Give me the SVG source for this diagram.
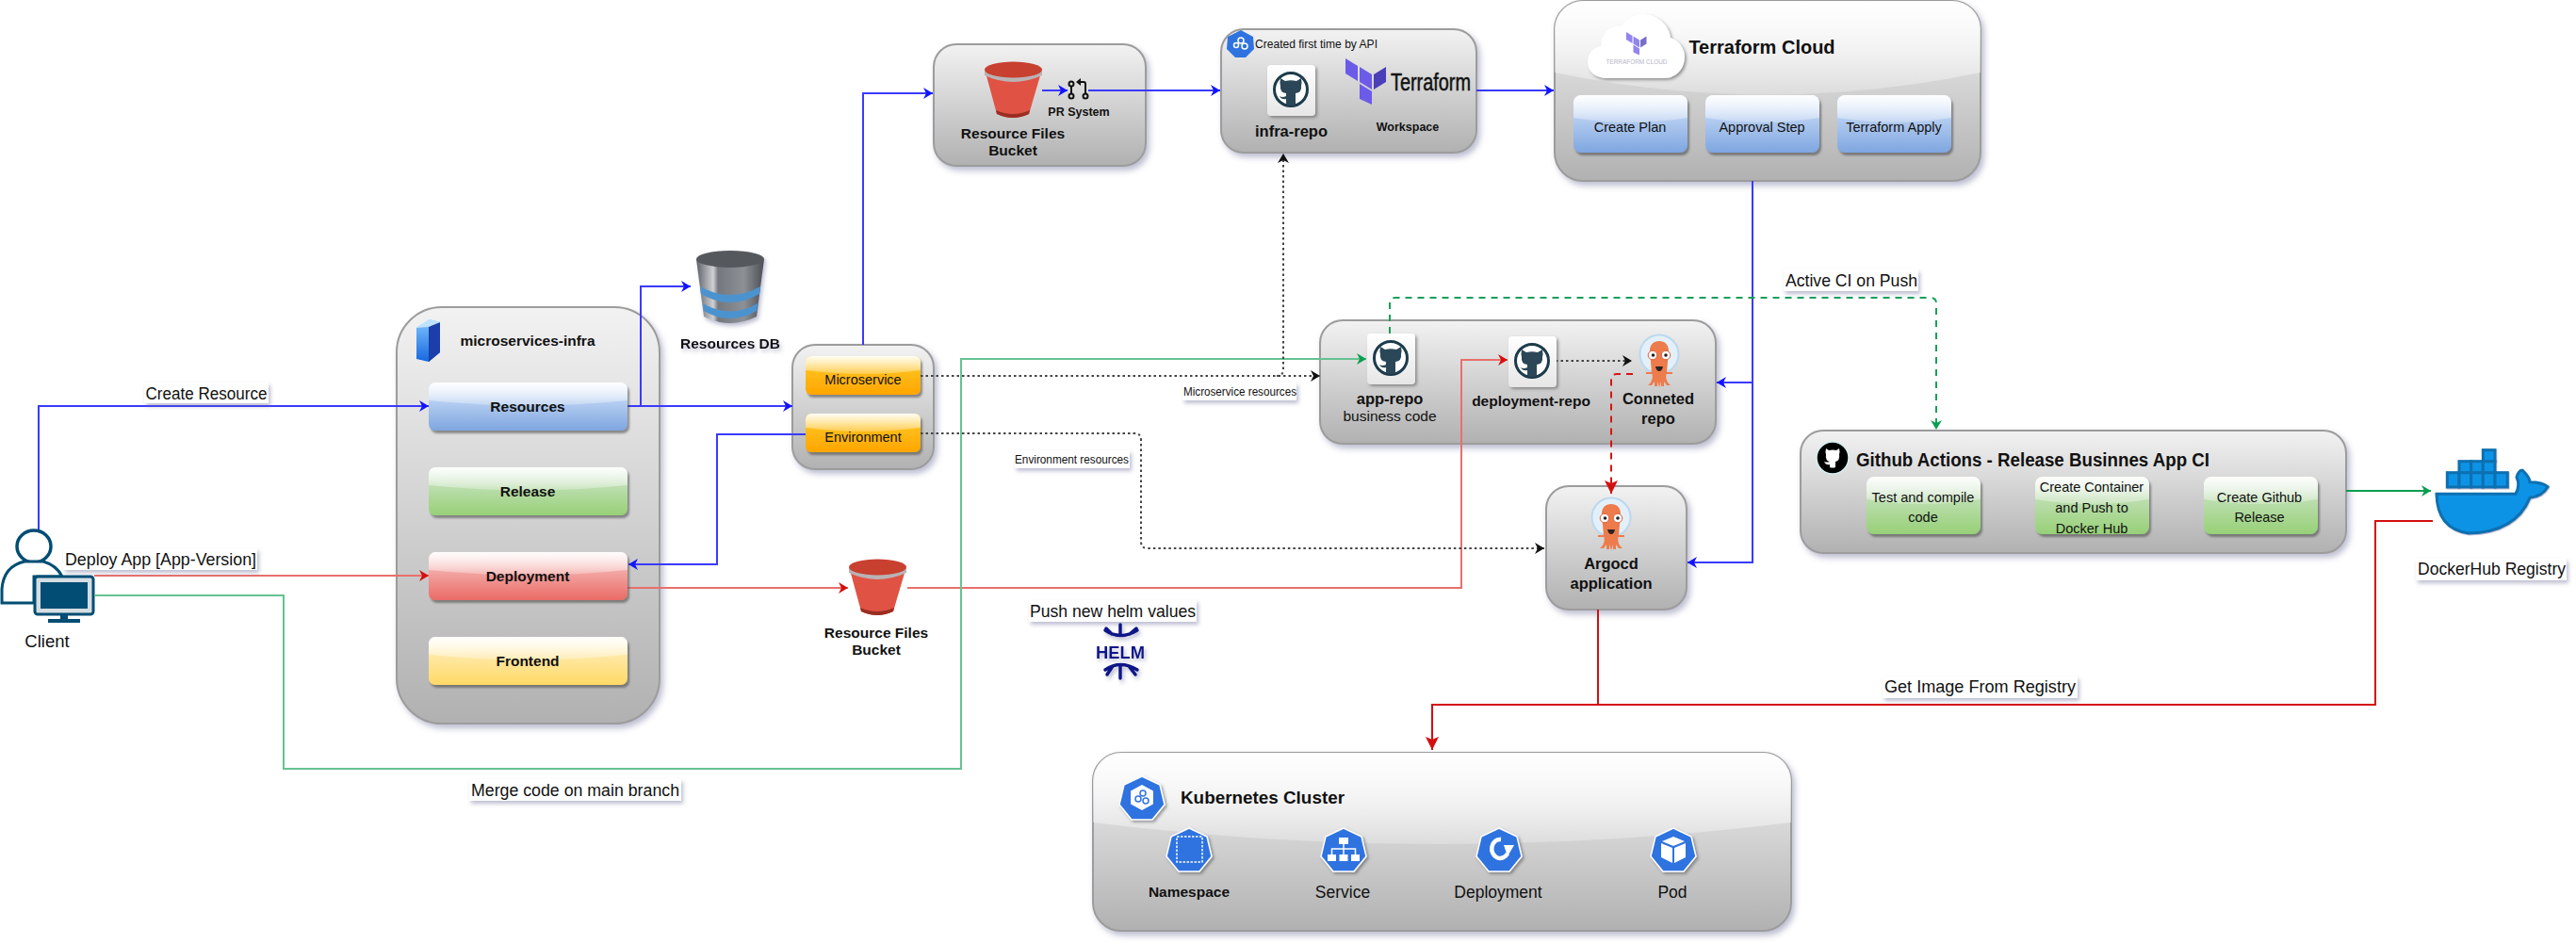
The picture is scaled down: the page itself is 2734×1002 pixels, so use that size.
<svg xmlns="http://www.w3.org/2000/svg" xmlns:xlink="http://www.w3.org/1999/xlink" width="2734" height="1002" viewBox="0 0 2734 1002">
<style>
text{font-family:"Liberation Sans",Arial,sans-serif;fill:#111;text-anchor:middle}
.b{font-weight:700}
.s15{font-size:15.5px}.s16{font-size:16.5px}.s14{font-size:14.5px}.s12{font-size:12.5px}.s17{font-size:17.5px}.s18{font-size:18.5px}.s115{font-size:12px}
.panel{fill:url(#gPanel);stroke:#9c9c9c;stroke-width:2;filter:url(#sh)}
.gloss{fill:url(#gGloss)}
.lbl{fill:#fff;filter:url(#shL)}
.tile{fill:url(#gTile);filter:url(#shT)}
.c{fill:none;stroke-width:2}
.blue{stroke:#3a3aff}.red{stroke:#e8706c}.green{stroke:#66c291}
.dot{stroke:#444;stroke-dasharray:2.5 3}
</style>
<defs>
<linearGradient id="gPanel" x1="0" y1="0" x2="0" y2="1"><stop offset="0" stop-color="#f2f2f2"/><stop offset="1" stop-color="#b1b1b1"/></linearGradient>
<linearGradient id="gGloss" x1="0" y1="0" x2="0" y2="1"><stop offset="0" stop-color="#fff" stop-opacity=".95"/><stop offset="1" stop-color="#fff" stop-opacity=".25"/></linearGradient>
<linearGradient id="gTile" x1="0" y1="0" x2="0" y2="1"><stop offset="0" stop-color="#fff"/><stop offset="1" stop-color="#e6e6e6"/></linearGradient>
<linearGradient id="gBlue" x1="0" y1="0" x2="0" y2="1"><stop offset="0" stop-color="#dae8fc"/><stop offset="1" stop-color="#7ea6e0"/></linearGradient>
<linearGradient id="gGreen" x1="0" y1="0" x2="0" y2="1"><stop offset="0" stop-color="#d5e8d4"/><stop offset="1" stop-color="#97d077"/></linearGradient>
<linearGradient id="gRed" x1="0" y1="0" x2="0" y2="1"><stop offset="0" stop-color="#f8cecc"/><stop offset="1" stop-color="#ea6b66"/></linearGradient>
<linearGradient id="gYellow" x1="0" y1="0" x2="0" y2="1"><stop offset="0" stop-color="#fff2cc"/><stop offset="1" stop-color="#ffd966"/></linearGradient>
<linearGradient id="gOrange" x1="0" y1="0" x2="0" y2="1"><stop offset="0" stop-color="#ffcd28"/><stop offset="1" stop-color="#ffa500"/></linearGradient>
<linearGradient id="gDb" x1="0" y1="0" x2="1" y2="0"><stop offset="0" stop-color="#5d6167"/><stop offset=".25" stop-color="#cfd1d4"/><stop offset=".32" stop-color="#74787e"/><stop offset=".7" stop-color="#8d9196"/><stop offset="1" stop-color="#4b4e53"/></linearGradient>
<linearGradient id="gSrv" x1="0" y1="0" x2="0" y2="1"><stop offset="0" stop-color="#7fc4ff"/><stop offset="1" stop-color="#1668e0"/></linearGradient>
<filter id="sh" x="-10%" y="-10%" width="125%" height="125%"><feDropShadow dx="3" dy="4" stdDeviation="3" flood-color="#6a6f9a" flood-opacity=".45"/></filter>
<filter id="shB" x="-10%" y="-15%" width="125%" height="140%"><feDropShadow dx="2" dy="3" stdDeviation="1" flood-color="#444" flood-opacity=".55"/></filter>
<filter id="shL" x="-10%" y="-20%" width="125%" height="160%"><feDropShadow dx="2" dy="3" stdDeviation="2" flood-color="#6a6f9a" flood-opacity=".45"/></filter>
<filter id="shT" x="-15%" y="-15%" width="140%" height="140%"><feDropShadow dx="2" dy="2" stdDeviation="1.5" flood-color="#444" flood-opacity=".5"/></filter>
<filter id="shI" x="-15%" y="-15%" width="140%" height="140%"><feDropShadow dx="2" dy="3" stdDeviation="2" flood-color="#6a6f9a" flood-opacity=".45"/></filter>
<marker id="mBlue" markerUnits="userSpaceOnUse" markerWidth="12" markerHeight="12" refX="10" refY="6" orient="auto"><path d="M0 0L10 6L0 12L3 6Z" fill="#1414ff"/></marker>
<marker id="mRed" markerUnits="userSpaceOnUse" markerWidth="12" markerHeight="12" refX="10" refY="6" orient="auto"><path d="M0 0L10 6L0 12L3 6Z" fill="#d40f0f"/></marker>
<marker id="mGreen" markerUnits="userSpaceOnUse" markerWidth="12" markerHeight="12" refX="10" refY="6" orient="auto"><path d="M0 0L10 6L0 12L3 6Z" fill="#0a9e50"/></marker>
<marker id="mBlack" markerUnits="userSpaceOnUse" markerWidth="12" markerHeight="12" refX="10" refY="6" orient="auto"><path d="M0 0L10 6L0 12L3 6Z" fill="#111"/></marker>
<marker id="mRedL" markerUnits="userSpaceOnUse" markerWidth="16" markerHeight="14" refX="14" refY="7" orient="auto"><path d="M0 0L14 7L0 14L3 7Z" fill="#d40f0f"/></marker>

<g id="btnL"><rect width="211" height="51" rx="7" filter="url(#shB)"/><path class="gloss" d="M0 7a7 7 0 0 1 7-7h197a7 7 0 0 1 7 7v12Q105 30 0 19Z"/></g>
<g id="btnM"><rect width="122" height="41" rx="6" filter="url(#shB)"/><path class="gloss" d="M0 6a6 6 0 0 1 6-6h110a6 6 0 0 1 6 6v9Q61 23 0 15Z"/></g>
<g id="btnS"><rect width="121" height="61" rx="8" filter="url(#shB)"/><path class="gloss" d="M0 8a8 8 0 0 1 8-8h105a8 8 0 0 1 8 8v16Q60 34 0 24Z"/></g>

<g id="ghTile">
<rect class="tile" width="51" height="54" rx="4"/>
<circle cx="25" cy="26" r="17.5" fill="#fff" stroke="#1d3b4b" stroke-width="3"/>
<path d="M14 14L19 17Q25 15.500 31 17L36 14Q37 19 36 22Q37 29 30 30V42Q25 44 20 42V36Q15 37 13 33Q16 35 20 33V30Q13 29 14 22Q13 19 14 14Z" fill="#2b4757"/>
</g>

<g id="argo">
<circle cx="21" cy="22" r="20.500" fill="#e3f0fa" stroke="#bcd8ee" stroke-width="2"/>
<path d="M21 8C27 8 31 12 31 18L29 42Q27 46 30 52L33 55H29L26 51V56H23V51L21 57L19 51V56H16V51L13 55H9L12 52Q15 46 13 42L11 18C11 12 15 8 21 8Z" fill="#ee7b4c"/>
<path d="M7 42H35" stroke="#ee7b4c" stroke-width="2"/>
<circle cx="14" cy="23" r="4.800" fill="#fff" stroke="#e25c33"/><circle cx="28" cy="23" r="4.800" fill="#fff" stroke="#e25c33"/>
<circle cx="14.500" cy="23" r="1.800" fill="#222"/><circle cx="28" cy="23" r="1.800" fill="#222"/>
<path d="M17 35H25Q24 40 21 40Q18 40 17 35Z" fill="#2b2320"/>
</g>

<g id="bucket">
<path d="M1 12L13 56Q30 64 47 56L60 12Z" fill="#e05243"/>
<path d="M13 56Q30 64 47 56L48 52Q30 60 12 52Z" fill="#9a2e22"/>
<path d="M0 10Q30 24 61 10V15Q30 29 0 15Z" fill="#b9b3b5"/>
<ellipse cx="30.500" cy="9" rx="30.500" ry="8.500" fill="#c8402f"/>
</g>

<path id="hept" d="M24 0L43 9L48 30L35 46H13L0 30L5 9Z"/>
<g id="tfl">
<path d="M0 0L13 8V24L0 16Z" fill="#6b5be8"/>
<path d="M15 9L28 17V33L15 25Z" fill="#6b5be8"/>
<path d="M30 17L43 9V25L30 33Z" fill="#4a3fb8"/>
<path d="M15 27L28 35V49L15 43Z" fill="#6b5be8"/>
</g>
</defs>

<rect width="2734" height="1002" fill="#fff"/>

<g id="microservices-infra">
<rect class="panel" x="421" y="326" width="279" height="442" rx="48"/>
<path d="M442 348L456 339L467 342V374L455 384L442 381Z" fill="url(#gSrv)"/>
<path d="M455 346L467 342V374L455 384Z" fill="#1b3ea8"/>
<path d="M442 348L456 339L467 342L455 347Z" fill="#bfe3ff"/>
<text class="b s15" x="560" y="367">microservices-infra</text>
</g>

<g id="client">
<ellipse cx="36" cy="580" rx="18" ry="17" fill="#fff" stroke="#014d73" stroke-width="3.500"/>
<path d="M2 640V625Q4 601 26 596H46Q60 600 66 612H36V640Z" fill="#fff" stroke="#014d73" stroke-width="3"/>
<rect x="37" y="612" width="62" height="40" rx="3" fill="#d5dde2" stroke="#014d73" stroke-width="3"/>
<rect x="43" y="618" width="50" height="28" fill="#014d73"/>
<path d="M64 652H72V657H64ZM51 657H85V661H51Z" fill="#014d73"/>
<text class="s18" x="50" y="687">Client</text>
</g>

<g id="resources-db" filter="url(#shI)">
<path d="M739 275L747 336Q775 350 803 336L811 275Z" fill="url(#gDb)"/>
<ellipse cx="775" cy="275" rx="36" ry="9" fill="#55585c"/>
<path d="M743 304Q775 322 807 304L806 312Q775 330 744 312Z" fill="#4c93cf"/>
<path d="M746 322Q775 339 804 322L803 330Q775 346 747 330Z" fill="#4c93cf"/>
<text class="b s15" x="775" y="370">Resources DB</text>
</g>

<g id="services">
<rect class="panel" x="841" y="366" width="150" height="132" rx="24"/>
</g>

<g id="resource-bucket-panel">
<rect class="panel" x="991" y="47" width="225" height="129" rx="24"/>
</g>

<g id="infra-panel">
<rect class="panel" x="1296" y="31" width="271" height="131" rx="24"/>
</g>

<g id="terraform-cloud">
<rect class="panel" x="1650" y="1" width="452" height="191" rx="30"/>
<path class="gloss" d="M1650 77V30A30 30 0 0 1 1680 1H2072A30 30 0 0 1 2102 30V77Q1876 124 1650 77Z"/>
</g>

<g id="repos-panel">
<rect class="panel" x="1401" y="340" width="420" height="131" rx="24"/>
</g>

<g id="argocd-panel">
<rect class="panel" x="1641" y="516" width="149" height="131" rx="24"/>
</g>

<g id="github-actions-panel">
<rect class="panel" x="1911" y="457" width="579" height="130" rx="24"/>
</g>

<g id="kubernetes-panel" transform="translate(0 1)">
<rect class="panel" x="1160" y="798" width="741" height="189" rx="30"/>
<path class="gloss" d="M1160 872V828A30 30 0 0 1 1190 798H1871A30 30 0 0 1 1901 828V872Q1530 918 1160 872Z"/>
</g>

<g id="connectors">
<path class="c blue" d="M41 562V431H455" marker-end="url(#mBlue)"/>
<path class="c blue" d="M666 431H841" marker-end="url(#mBlue)"/>
<path class="c blue" d="M680 431V304H733" marker-end="url(#mBlue)"/>
<path class="c blue" d="M855 461H761V599H667" marker-end="url(#mBlue)"/>
<path class="c blue" d="M916 366V99H990" marker-end="url(#mBlue)"/>
<path class="c blue" d="M1106 96H1133" marker-end="url(#mBlue)"/>
<path class="c blue" d="M1155 96H1295" marker-end="url(#mBlue)"/>
<path class="c blue" d="M1567 96H1649" marker-end="url(#mBlue)"/>
<path class="c blue" d="M1860 192V406H1822" marker-end="url(#mBlue)"/>
<path class="c blue" d="M1860 406V597H1791" marker-end="url(#mBlue)"/>
<path class="c red" d="M100 611H455" marker-end="url(#mRed)"/>
<path class="c red" d="M666 624H900" marker-end="url(#mRed)"/>
<path class="c red" d="M963 624H1551V382H1600" marker-end="url(#mRed)"/>
<path class="c green" d="M100 632H301V816H1020V381H1450" marker-end="url(#mGreen)"/>
<path class="c dot" d="M977 399H1401" marker-end="url(#mBlack)"/>
<path class="c dot" d="M1355 399Q1362 399 1362 392V163" marker-end="url(#mBlack)"/>
<path class="c dot" d="M977 460H1204Q1211 460 1211 467V575Q1211 582 1218 582H1639" marker-end="url(#mBlack)"/>
<path class="c dot" d="M1651 383H1732" marker-end="url(#mBlack)"/>
<path class="c" d="M1475 354V322Q1475 316 1481 316H2049Q2055 316 2055 322V456" stroke="#12a05a" stroke-dasharray="7 6" stroke-width="3" marker-end="url(#mGreen)"/>
<path class="c" d="M1733 397H1716Q1710 397 1710 403V524" stroke="#d91414" stroke-dasharray="7 6" stroke-width="3" marker-end="url(#mRedL)"/>
<path class="c" d="M2490 521H2580" stroke="#0a9e50" stroke-width="3.500" marker-end="url(#mGreen)"/>
<path class="c" d="M1696 647V748H1520V796" stroke="#d40f0f" stroke-width="3.500" marker-end="url(#mRedL)"/>
<path class="c" d="M1696 748H2521V553H2582" stroke="#d40f0f" stroke-width="3.500"/>

<g id="edge-labels">
<rect class="lbl" x="153" y="406" width="132" height="22"/><text class="s17" x="219" y="424" textLength="129" lengthAdjust="spacingAndGlyphs">Create Resource</text>
<rect class="lbl" x="67" y="582" width="206" height="23"/><text class="s18" x="170.500" y="600" textLength="203" lengthAdjust="spacingAndGlyphs">Deploy App [App-Version]</text>
<rect class="lbl" x="498" y="827" width="225" height="23"/><text class="s17" x="610.500" y="845" textLength="221" lengthAdjust="spacingAndGlyphs">Merge code on main branch</text>
<rect class="lbl" x="1255" y="406" width="121" height="19"/><text class="s115" x="1316" y="420" textLength="120" lengthAdjust="spacingAndGlyphs">Microservice resources</text>
<rect class="lbl" x="1077" y="478" width="122" height="19"/><text class="s115" x="1137.500" y="492" textLength="121" lengthAdjust="spacingAndGlyphs">Environment resources</text>
<rect class="lbl" x="1092" y="637" width="178" height="23"/><text class="s18" x="1181" y="655" textLength="176" lengthAdjust="spacingAndGlyphs">Push new helm values</text>
<rect class="lbl" x="1893" y="286" width="143" height="23"/><text class="s18" x="1965" y="304" textLength="140" lengthAdjust="spacingAndGlyphs">Active CI on Push</text>
<rect class="lbl" x="1998" y="718" width="207" height="23"/><text class="s18" x="2101.500" y="735" textLength="203" lengthAdjust="spacingAndGlyphs">Get Image From Registry</text>
<rect class="lbl" x="2564" y="593" width="160" height="23"/><text class="s18" x="2644.500" y="610" textLength="157" lengthAdjust="spacingAndGlyphs">DockerHub Registry</text>
</g>
</g>

<g id="resources"><use href="#btnL" x="455" y="406" fill="url(#gBlue)"/><text class="b s15" x="560" y="437">Resources</text></g>
<g id="release"><use href="#btnL" x="455" y="496" fill="url(#gGreen)"/><text class="b s15" x="560" y="527">Release</text></g>
<g id="deployment"><use href="#btnL" x="455" y="586" fill="url(#gRed)"/><text class="b s15" x="560" y="617">Deployment</text></g>
<g id="frontend"><use href="#btnL" x="455" y="676" fill="url(#gYellow)"/><text class="b s15" x="560" y="707">Frontend</text></g>

<g id="microservice"><use href="#btnM" x="855" y="378" fill="url(#gOrange)"/><text class="s14" x="916" y="408">Microservice</text></g>
<g id="environment"><use href="#btnM" x="855" y="439" fill="url(#gOrange)"/><text class="s14" x="916" y="469">Environment</text></g>

<g id="bucket-top">
<use href="#bucket" x="1045" y="65"/>
<text class="b s15" x="1075" y="147">Resource Files</text><text class="b s15" x="1075" y="165">Bucket</text>
</g>
<g id="pr-system">
<g fill="none" stroke="#111" stroke-width="2"><circle cx="1137" cy="89" r="2.500"/><circle cx="1137" cy="102" r="2.500"/><circle cx="1152" cy="102" r="2.500"/><path d="M1137 92V99M1152 99V89Q1152 87 1150 87H1145"/></g>
<path d="M1147 83L1142 87L1147 91Z" fill="#111"/>
<text class="b s12" x="1145" y="123">PR System</text>
</g>

<g id="infra-repo">
<path d="M1317 32L1330 39L1331 52L1322 61H1311L1302 52L1303 39Z" fill="#2f73e0"/>
<g fill="none" stroke="#fff" stroke-width="1.500"><circle cx="1317" cy="43" r="3"/><circle cx="1312" cy="48" r="2.500"/><circle cx="1321" cy="49" r="3"/></g>
<text class="s12" x="1397" y="51" textLength="130" lengthAdjust="spacingAndGlyphs">Created first time by API</text>
<use href="#ghTile" x="1345" y="69"/>
<text class="b s16" x="1370.500" y="144.500">infra-repo</text>
<use href="#tfl" x="1428" y="62"/>
<text x="1518.500" y="96" font-size="25" textLength="85" lengthAdjust="spacingAndGlyphs" stroke="#111" stroke-width=".5">Terraform</text>
<text class="b s12" x="1494" y="139">Workspace</text>
</g>

<g id="tf-cloud-content">
<path d="M1706 83C1692 83 1685 75 1685 66C1685 56 1692 50 1699 49C1699 36 1710 25 1721 28C1727 18 1738 14 1747 15C1760 16 1772 28 1773 40C1783 43 1788 53 1788 60C1788 74 1778 83 1766 83Z" fill="#fff" filter="url(#shT)"/>
<use href="#tfl" transform="translate(1726 34) scale(.5)" opacity=".75"/>
<text x="1737" y="68" font-size="6.500" style="fill:#b5b5c5" textLength="65" lengthAdjust="spacingAndGlyphs">TERRAFORM CLOUD</text>
<text class="b" font-size="20" x="1870" y="57">Terraform Cloud</text>
</g>
<g id="create-plan"><use href="#btnS" x="1670" y="101" fill="url(#gBlue)"/><text class="s14" x="1730" y="140">Create Plan</text></g>
<g id="approval-step"><use href="#btnS" x="1810" y="101" fill="url(#gBlue)"/><text class="s14" x="1870" y="140">Approval Step</text></g>
<g id="terraform-apply"><use href="#btnS" x="1950" y="101" fill="url(#gBlue)"/><text class="s14" x="2010" y="140">Terraform Apply</text></g>

<g id="app-repo">
<use href="#ghTile" x="1451" y="354"/>
<text class="b s16" x="1475" y="429">app-repo</text>
<text class="s15" x="1475" y="447">business code</text>
</g>
<g id="deployment-repo">
<use href="#ghTile" x="1601" y="357"/>
<text class="b" font-size="15.500" x="1625" y="431">deployment-repo</text>
</g>
<g id="conneted-repo">
<use href="#argo" x="1740" y="354"/>
<text class="b s16" x="1760" y="429">Conneted</text><text class="b s16" x="1760" y="450">repo</text>
</g>
<g id="argocd-application">
<use href="#argo" x="1689" y="527"/>
<text class="b s16" x="1710" y="604">Argocd</text><text class="b s16" x="1710" y="625">application</text>
</g>

<g id="bucket-bottom">
<use href="#bucket" x="901" y="593"/>
<text class="b s15" x="930" y="677">Resource Files</text><text class="b s15" x="930" y="695">Bucket</text>
</g>

<g id="helm" filter="url(#shI)">
<g fill="none" stroke="#0f1689" stroke-width="3.500" stroke-linecap="round"><path d="M1173 669Q1189 680 1207 669M1189 663V674M1174 667L1180 673M1206 667L1199 673"/><path d="M1173 711Q1189 700 1207 711M1189 720V706M1175 716L1181 707M1205 716L1198 707"/></g>
<text class="b" font-size="18" x="1189" y="699" textLength="52" lengthAdjust="spacingAndGlyphs" style="fill:#0f1689">HELM</text>
</g>

<g id="github-actions">
<ellipse cx="1945" cy="486" rx="17" ry="17" fill="#000" stroke="#d5f1f2" stroke-width="1.500"/>
<path d="M1938 476L1941 478Q1945 477 1949 478L1952 476Q1953 480 1952 482Q1953 489 1948 490V496Q1945 497 1942 496V493Q1938 494 1936 490Q1939 491 1942 490Q1937 489 1938 482Q1937 480 1938 476Z" fill="#fff"/>
<text class="b" font-size="19.500" x="2157.500" y="495" textLength="375" lengthAdjust="spacingAndGlyphs">Github Actions - Release Businnes App CI</text>
</g>
<g id="test-compile"><use href="#btnS" x="1981" y="506" fill="url(#gGreen)"/><text class="s14" x="2041" y="533">Test and compile</text><text class="s14" x="2041" y="554">code</text></g>
<g id="create-container"><use href="#btnS" x="2160" y="506" fill="url(#gGreen)"/><text class="s14" x="2220" y="522">Create Container</text><text class="s14" x="2220" y="544">and Push to</text><text class="s14" x="2220" y="566">Docker Hub</text></g>
<g id="create-release"><use href="#btnS" x="2339" y="506" fill="url(#gGreen)"/><text class="s14" x="2398" y="533">Create Github</text><text class="s14" x="2398" y="554">Release</text></g>

<g id="docker" transform="translate(2570 465) scale(.3333)" filter="url(#shI)">
<path d="M48 178H300Q315 150 303 125Q310 100 322 103Q345 125 345 140Q385 140 402 155Q385 185 345 190Q300 300 150 303Q50 290 48 178Z" fill="#1093e6" stroke="#0b6fb0" stroke-width="9"/>
<g fill="#1093e6" stroke="#0b6fb0" stroke-width="9">
<rect x="82" y="110" width="38" height="46"/><rect x="120" y="110" width="38" height="46"/><rect x="158" y="110" width="38" height="46"/><rect x="196" y="110" width="38" height="46"/><rect x="234" y="110" width="40" height="46"/>
<rect x="120" y="74" width="38" height="36"/><rect x="158" y="74" width="38" height="36"/><rect x="196" y="74" width="38" height="36"/>
<rect x="196" y="38" width="38" height="36"/>
</g>
</g>

<g id="kubernetes-content" transform="translate(0 1)">
<use href="#hept" x="1188" y="823" fill="#2f73e0" stroke="#fff" stroke-width="1.500" filter="url(#shT)"/>
<g fill="none" stroke="#fff" stroke-width="1.800"><path d="M1212 833L1223 839V852L1212 858L1201 852V839Z" fill="#fff"/></g>
<g fill="none" stroke="#2f73e0" stroke-width="1.500"><circle cx="1213" cy="841" r="3"/><circle cx="1208" cy="847" r="3"/><circle cx="1216" cy="849" r="3"/></g>
<text class="b" font-size="19" x="1340" y="852" textLength="174" lengthAdjust="spacingAndGlyphs">Kubernetes Cluster</text>
</g>
<g id="namespace" transform="translate(0 1)">
<use href="#hept" x="1238" y="878" fill="#2f73e0" stroke="#fff" stroke-width="1.500" filter="url(#shT)"/>
<rect x="1249" y="887" width="27" height="27" fill="none" stroke="#fff" stroke-width="1.500" stroke-dasharray="2.500 1.500"/>
<text class="b" font-size="15.500" x="1262" y="951">Namespace</text>
</g>
<g id="service" transform="translate(0 1)">
<use href="#hept" x="1402" y="878" fill="#2f73e0" stroke="#fff" stroke-width="1.500" filter="url(#shT)"/>
<g fill="#fff"><rect x="1421" y="888" width="10" height="7"/><rect x="1409" y="906" width="9" height="7"/><rect x="1421.500" y="906" width="9" height="7"/><rect x="1434" y="906" width="9" height="7"/></g>
<path d="M1426 895V906M1413.500 906V900H1438.500V906" stroke="#fff" stroke-width="1.500" fill="none"/>
<text class="s17" x="1425" y="952">Service</text>
</g>
<g id="deployment-k8s" transform="translate(0 1)">
<use href="#hept" x="1567" y="878" fill="#2f73e0" stroke="#fff" stroke-width="1.500" filter="url(#shT)"/>
<path d="M1600 905A9 10 0 1 1 1593 890" fill="none" stroke="#fff" stroke-width="4.500"/>
<path d="M1596 896L1607 896L1600 908Z" fill="#fff"/>
<text class="s17" x="1590" y="952">Deployment</text>
</g>
<g id="pod" transform="translate(0 1)">
<use href="#hept" x="1752" y="878" fill="#2f73e0" stroke="#fff" stroke-width="1.500" filter="url(#shT)"/>
<path d="M1776 887L1788 892L1776 897L1764 892Z" fill="#fff"/>
<path d="M1763 894L1775 899V915L1763 909Z" fill="#fff"/>
<path d="M1789 894L1777 899V915L1789 909Z" fill="#fff"/>
<text class="s17" x="1775" y="952">Pod</text>
</g>
</svg>
